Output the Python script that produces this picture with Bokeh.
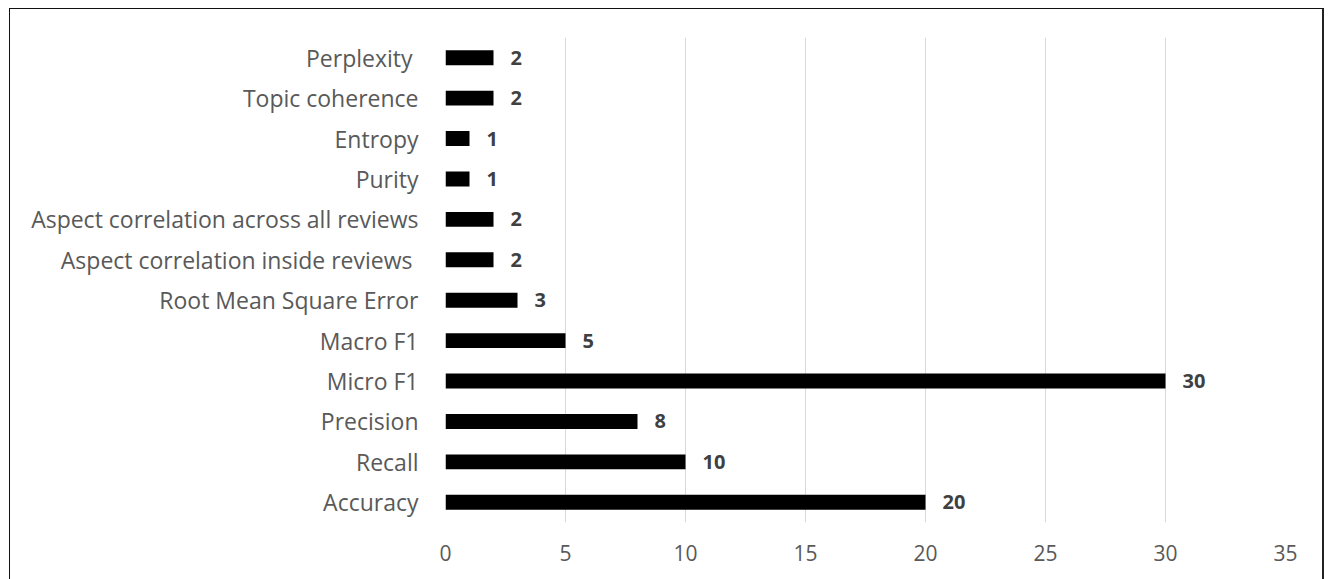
from bokeh.plotting import figure
from bokeh.models import ColumnDataSource, Range1d, LabelSet, FixedTicker
from bokeh.core.properties import value
from bokeh.embed import file_html
from bokeh.resources import INLINE

# Evaluation metrics and how many studies use each one (bottom to top)
metrics = [
    "Accuracy",
    "Recall",
    "Precision",
    "Micro F1",
    "Macro F1",
    "Root Mean Square Error",
    "Aspect correlation inside reviews ",
    "Aspect correlation across all reviews",
    "Purity",
    "Entropy",
    "Topic coherence",
    "Perplexity ",
]
counts = [20, 10, 8, 30, 5, 3, 2, 2, 1, 1, 2, 2]
x_ticks = [0, 5, 10, 15, 20, 25, 30, 35]

FONT = "Open Sans"

src = ColumnDataSource(dict(metric=metrics, count=counts, label=[str(c) for c in counts]))

p = figure(
    width=1315, height=571,
    y_range=metrics, x_range=Range1d(0, 35),
    output_backend="svg", toolbar_location=None,
    min_border_left=435, min_border_right=40,
    min_border_top=28, min_border_bottom=58,
    margin=(8, 0, 0, 9),
    styles={
        "border-left": "1px solid #111",
        "border-top": "1px solid #111",
        "border-right": "2px solid #222",
    },
)

p.hbar(y="metric", right="count", left=0, height=0.37, source=src,
       fill_color="black", line_color=None)

labels = LabelSet(x="count", y="metric", text="label", source=src,
                  x_offset=17, text_baseline="middle", text_align="left",
                  text_font=value(FONT), text_font_style="bold",
                  text_font_size="20px", text_color="#404040")
p.add_layout(labels)

# frame and grid
p.outline_line_color = None
p.ygrid.grid_line_color = None
p.xgrid.grid_line_color = "#d9d9d9"
p.xgrid.grid_line_width = 1
p.xaxis.ticker = FixedTicker(ticks=x_ticks)

for ax in (p.xaxis, p.yaxis):
    ax.axis_line_color = None
    ax.major_tick_line_color = None
    ax.minor_tick_line_color = None
    ax.major_label_text_font = FONT
    ax.major_label_text_color = "#595959"

p.yaxis.major_label_text_font_size = "23px"
p.xaxis.major_label_text_font_size = "21px"
p.yaxis.major_label_standoff = 21
p.xaxis.major_label_standoff = 16

open("out.html", "w").write(file_html(p, INLINE))
